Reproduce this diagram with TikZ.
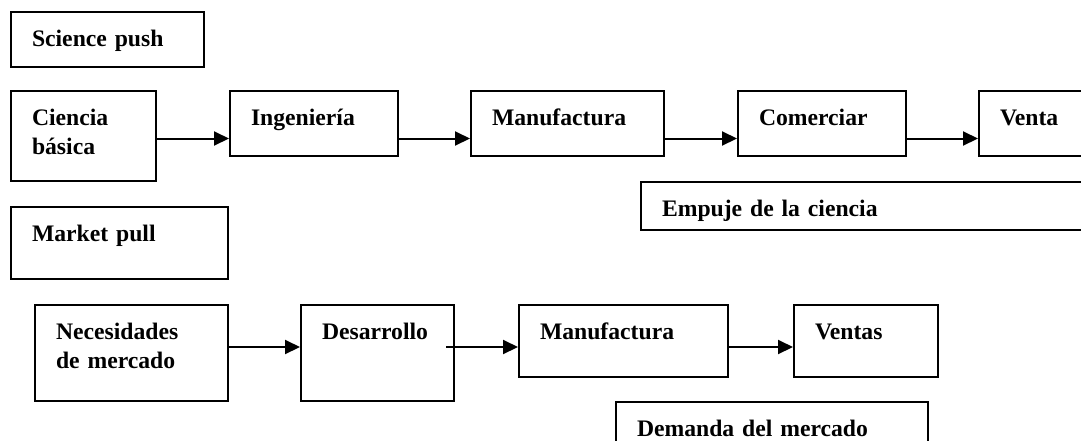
\documentclass[tikz,border=0pt]{standalone}
\usepackage{fontspec}
\setmainfont{Liberation Serif}
\usetikzlibrary{calc,arrows.meta}

\begin{document}
\begin{tikzpicture}[x=0.75pt,y=-0.75pt,line width=1.5pt,
    box/.style={draw,rectangle,anchor=north west,align=left,inner xsep=15.75pt,inner ysep=0pt,text height=25.5pt,font=\bfseries\fontsize{17.75pt}{21.75pt}\selectfont},
    flow/.style={-{Triangle[length=11.25pt,width=10.5pt]}}]
    \path[use as bounding box] (0,0) rectangle (1081,440);
    \clip (0,0) rectangle (1081,440);

    \node[box,text width=113.25pt,text depth=15.75pt] (sciencepush) at (10,11) {Science push};
    \node[box,text width=77.25pt,text depth=42pt] (ciencia) at ($(sciencepush.north west)+(0,79)$) {Ciencia\\básica};

    \node[box,text width=94.5pt,text depth=23.25pt] (ingenieria) at ($(ciencia.north east)+(72,0)$) {Ingeniería};
    \node[box,text width=113.25pt,text depth=23.25pt] (manufactura) at ($(ingenieria.north east)+(71,0)$) {Manufactura};
    \node[box,text width=94.5pt,text depth=23.25pt] (comerciar) at ($(manufactura.north east)+(72,0)$) {Comerciar};
    \node[box,text width=66pt,text depth=23.25pt] (venta) at ($(comerciar.north east)+(71,0)$) {Venta};

    \node[box,text width=318pt,text depth=10.5pt] (empuje) at ($(manufactura.south east)+(-25,24)$) {Empuje de la ciencia};

    \node[box,text width=131.25pt,text depth=28.5pt] (marketpull) at ($(ciencia.south west)+(0,24)$) {Market pull};
    \node[box,text width=113.25pt,text depth=46.5pt] (necesidades) at ($(marketpull.south west)+(24,24)$) {Necesidades\\de mercado};
    \node[box,text width=83.25pt,text depth=46.5pt] (desarrollo) at ($(necesidades.north east)+(71,0)$) {Desarrollo};
    \node[box,text width=125.25pt,text depth=28.5pt] (manufacturab) at ($(desarrollo.north east)+(63,0)$) {Manufactura};
    \node[box,text width=76.5pt,text depth=28.5pt] (ventas) at ($(manufacturab.north east)+(64,0)$) {Ventas};

    \node[box,text width=202.5pt,text depth=27pt] (demanda) at ($(manufacturab.south west)+(97,23)$) {Demanda del mercado};

    \coordinate (toprow) at (0,138.5);
    \coordinate (botrow) at (0,347);

    \draw[flow] (ciencia.east |- toprow) -- (ingenieria.west |- toprow);
    \draw[flow] (ingenieria.east |- toprow) -- (manufactura.west |- toprow);
    \draw[flow] (manufactura.east |- toprow) -- (comerciar.west |- toprow);
    \draw[flow] (comerciar.east |- toprow) -- (venta.west |- toprow);

    \draw[flow] (necesidades.east |- botrow) -- (desarrollo.west |- botrow);
    \draw[flow] ($(desarrollo.east |- botrow)+(-9,0)$) -- (manufacturab.west |- botrow);
    \draw[flow] (manufacturab.east |- botrow) -- (ventas.west |- botrow);
\end{tikzpicture}
\end{document}
